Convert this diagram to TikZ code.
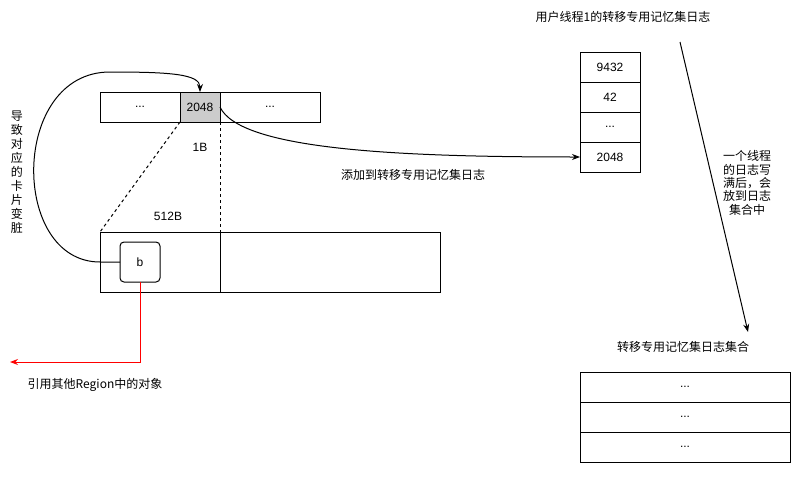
\documentclass[tikz,border=0pt]{standalone}
\usepackage{fontspec}
\setmainfont{Liberation Sans}
\newfontfamily\cjk{Noto Sans CJK SC}
\usetikzlibrary{arrows.meta}
\tikzset{every picture/.style={line width=0.75pt}}

\begin{document}
\begin{tikzpicture}[x=0.75pt,y=0.75pt,yscale=-1,xscale=1,
  cell/.style={draw, minimum height=22.5pt, inner sep=0pt, outer sep=0pt, font=\fontsize{9}{10}\selectfont},
  lbl/.style={inner sep=0.75pt, font=\fontsize{9}{10.5}\selectfont\cjk, align=center},
  num/.style={inner sep=0.75pt, font=\fontsize{9}{10}\selectfont},
  tip/.style={-{Stealth[length=6pt,width=4.5pt]}}]
\useasboundingbox (0,0) rectangle (792,496);

%Card table
\node[cell, minimum width=60pt, anchor=north west] (barL) at (100,92) {...};
\node[cell, minimum width=30pt, fill=gray!40, anchor=west] (card) at (barL.east) {2048};
\node[cell, minimum width=75pt, anchor=west] (barR) at (card.east) {...};

%Region
\node[cell, minimum width=90pt, minimum height=45pt, anchor=north west] (regL) at (100,232) {};
\node[cell, minimum width=165pt, minimum height=45pt, anchor=west] (regR) at (regL.east) {};
\node[cell, rounded corners=3pt, minimum width=30pt, minimum height=30pt] (obj) at (140,262) {b};

%Card scope
\draw [dash pattern={on 2.25pt off 2.25pt}] (card.south west) -- (regL.north west);
\draw [dash pattern={on 2.25pt off 2.25pt}] (card.south east) -- (regL.north east);
\node[num] (cardSize) at (200,147) {1B};
\node[num] (regSize) at (168,216) {512B};

%Log of thread 1
\node[cell, minimum width=45pt, anchor=north west] (log1) at (580,52) {9432};
\node[cell, minimum width=45pt, anchor=north] (log2) at (log1.south) {42};
\node[cell, minimum width=45pt, anchor=north] (log3) at (log2.south) {...};
\node[cell, minimum width=45pt, anchor=north] (log4) at (log3.south) {2048};
\node[lbl] (logTitle) at (623,17) {用户线程1的转移专用记忆集日志};

%Log set
\node[cell, minimum width=157.5pt, anchor=north west] (set1) at (580,372) {...};
\node[cell, minimum width=157.5pt, anchor=north] (set2) at (set1.south) {...};
\node[cell, minimum width=157.5pt, anchor=north] (set3) at (set2.south) {...};
\node[lbl] (setTitle) at (683,347) {转移专用记忆集日志集合};

%Connectors
\draw [tip] (obj.west) -- (100,262) .. controls (10,262) and (10,72) .. (110,72) .. controls (170,72) and (200,74) .. (card.north);
\node[lbl] (dirtyLbl) at (17,172) {导\\致\\对\\应\\的\\卡\\片\\变\\脏};

\draw [tip] (card.east) .. controls (240,150) and (400,157) .. (log4.west);
\node[lbl] (addLbl) at (413,175) {添加到转移专用记忆集日志};

\coordinate (fullA) at (680,42);
\coordinate (fullB) at (748,332);
\draw [tip] (fullA) -- (fullB);
\node[lbl, font=\fontsize{9}{10}\selectfont\cjk] (fullLbl) at (747,183) {一个线程\\的日志写\\满后，会\\放到日志\\集合中};

\coordinate (refEnd) at (10,362);
\draw [tip, red] (obj.south) |- (refEnd);
\node[lbl] (refLbl) at (95,385) {引用其他Region中的对象};

\end{tikzpicture}
\end{document}
